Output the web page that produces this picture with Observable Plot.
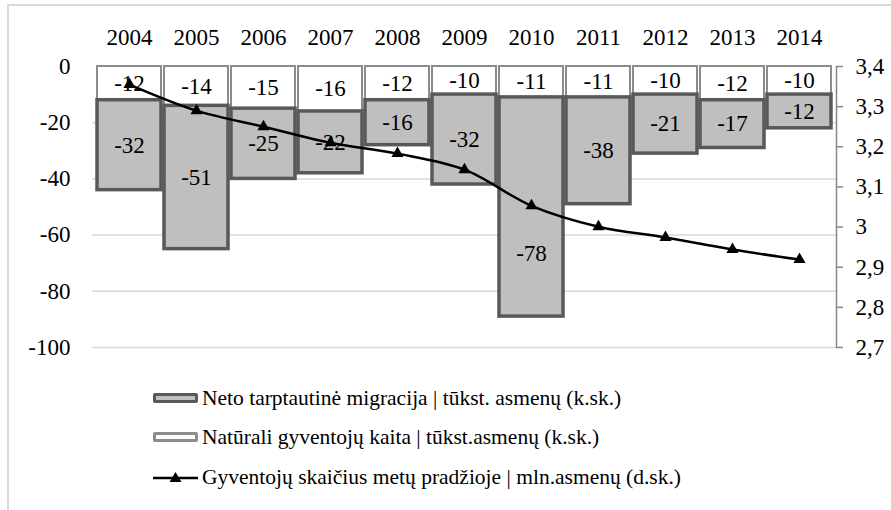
<!DOCTYPE html>
<html>
<head>
<meta charset="utf-8">
<script src="https://cdn.jsdelivr.net/npm/d3@7"></script>
<script src="https://cdn.jsdelivr.net/npm/@observablehq/plot@0.6"></script>
<style>
  html, body { margin: 0; padding: 0; background: #fff; }
  body { position: relative; width: 891px; height: 510px; overflow: hidden; font-family: "Liberation Serif", "Times New Roman", serif; }
  #chart { position: absolute; left: 0; top: 0; }
  #chart svg, #chart svg text, #chart svg g { font-family: "Liberation Serif", "Times New Roman", serif !important; }
  .frameL { position: absolute; left: 7px; top: 4px; width: 2px; height: 506px; background: #d9d9d9; }
  .frameT { position: absolute; left: 7px; top: 4px; width: 884px; height: 2px; background: #d9d9d9; }
  .leg { position: absolute; left: 153px; height: 30px; display: flex; align-items: center; font-size: 21.5px; color: #000; white-space: nowrap; }
  .sw { width: 45px; height: 10px; box-sizing: border-box; border-radius: 2px; margin-right: 4px; flex: none; }
  .sw1 { background: #bfbfbf; border: 3px solid #595959; }
  .sw2 { background: #fff; border: 3px solid #8c8c8c; }
  .sw3 { width: 45px; height: 14px; margin-right: 4px; flex: none; }
</style>
</head>
<body>
<div id="chart"></div>
<div class="frameL"></div>
<div class="frameT"></div>
<div class="leg" style="top:383px"><div class="sw sw1"></div><span>Neto tarptautinė migracija | tūkst. asmenų (k.sk.)</span></div>
<div class="leg" style="top:422px"><div class="sw sw2"></div><span>Natūrali gyventojų kaita | tūkst.asmenų (k.sk.)</span></div>
<div class="leg" style="top:462px"><svg class="sw3" viewBox="0 0 45 14"><line x1="0" y1="8" x2="45" y2="8" stroke="#000" stroke-width="2.5"/><path d="M22.5 2 L28.5 12 L16.5 12 Z" fill="#000"/></svg><span>Gyventojų skaičius metų pradžioje | mln.asmenų (d.sk.)</span></div>
<script>
const years = [2004, 2005, 2006, 2007, 2008, 2009, 2010, 2011, 2012, 2013, 2014];
const naturalChange = [-12, -14, -15, -16, -12, -10, -11, -11, -10, -12, -10];
const netMigration = [-32, -51, -25, -22, -16, -32, -78, -38, -21, -17, -12];
const population = [3.355, 3.290, 3.250, 3.210, 3.183, 3.143, 3.053, 3.001, 2.974, 2.944, 2.919];
const leftTicks = [0, -20, -40, -60, -80, -100];
const rightTicks = [3.4, 3.3, 3.2, 3.1, 3.0, 2.9, 2.8, 2.7];
const movedLabelYear = 2010; // label moved down below the line in the original

// secondary axis mapping: 3.4 -> 0, 2.7 -> -100
const toLeft = v => (v - 3.4) / 0.7 * 100;
const fromLeft = t => 3.4 + t / 100 * 0.7;
const fmtRight = t => String(Math.round(fromLeft(t) * 10) / 10).replace(".", ",");

const natRows = years.map((year, i) => ({year, y1: 0, y2: naturalChange[i], label: naturalChange[i]}));
const migRows = years.map((year, i) => ({year, y1: naturalChange[i], y2: naturalChange[i] + netMigration[i], label: netMigration[i]}));
const popRows = years.map((year, i) => ({year, v: population[i]}));

const serif = '"Liberation Serif", "Times New Roman", serif';
const mid = d => (d.y1 + d.y2) / 2;

const chart = Plot.plot({
  width: 891,
  height: 360,
  marginTop: 66,
  marginLeft: 92,
  marginRight: 55,
  marginBottom: 13,
  style: {fontFamily: serif, fontSize: "23px", background: "transparent", color: "#000", overflow: "visible"},
  x: {type: "band", domain: years, padding: 0.04, axis: null, label: null},
  y: {domain: [-100, 0], axis: null, label: null},
  marks: [
    Plot.gridY(leftTicks.slice(1), {stroke: "#d9d9d9", strokeOpacity: 1, strokeWidth: 1.5}),
    Plot.barY(natRows, {x: "year", y1: "y1", y2: "y2", fill: "#fff", stroke: "#8c8c8c", strokeWidth: 2}),
    Plot.barY(migRows, {x: "year", y1: "y1", y2: "y2", fill: "#bfbfbf", stroke: "#595959", strokeWidth: 3.5}),
    Plot.text(natRows, {x: "year", y: mid, text: d => String(d.label), fill: "#000", fontFamily: serif, fontSize: 23}),
    Plot.text(migRows.filter(d => d.year !== movedLabelYear), {x: "year", y: mid, text: d => String(d.label), fill: "#000", fontFamily: serif, fontSize: 23}),
    Plot.text(migRows.filter(d => d.year === movedLabelYear), {x: "year", y: mid, dy: 47, text: d => String(d.label), fill: "#000", fontFamily: serif, fontSize: 23}),
    Plot.line(popRows, {x: "year", y: d => toLeft(d.v), curve: "catmull-rom", stroke: "#000", strokeWidth: 2.5}),
    Plot.dot(popRows, {x: "year", y: d => toLeft(d.v), symbol: "triangle", r: 4.5, fill: "#000", stroke: "none"}),
    Plot.axisX({anchor: "top", label: null, tickSize: 0, tickPadding: 22, tickFormat: d => String(d), fill: "#000", fontFamily: serif, fontSize: 23}),
    Plot.axisY({anchor: "left", label: null, ticks: leftTicks, tickSize: 0, tickPadding: 22, tickFormat: d => String(d), fill: "#000", fontFamily: serif, fontSize: 23}),
    Plot.axisY({anchor: "right", label: null, ticks: rightTicks.map(toLeft), tickSize: 6, tickPadding: 13, stroke: "#868686", strokeWidth: 1.5, tickFormat: fmtRight, fill: "#000", fontFamily: serif, fontSize: 23}),
    Plot.frame({anchor: "right", stroke: "#868686", strokeWidth: 1.5})
  ]
});
document.getElementById("chart").appendChild(chart);
</script>
</body>
</html>
